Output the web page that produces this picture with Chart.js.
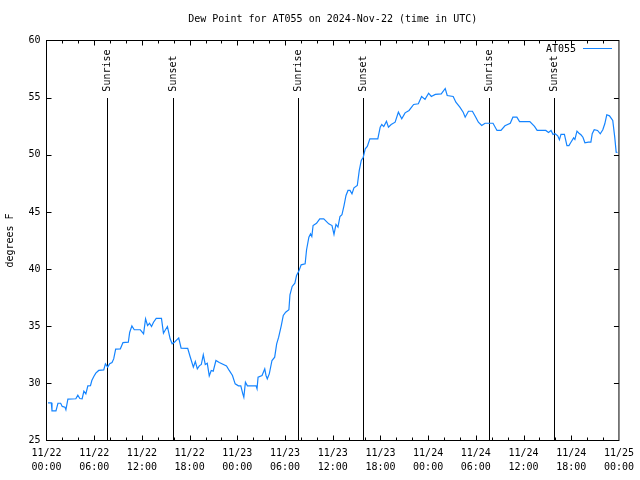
<!DOCTYPE html>
<html>
<head>
<meta charset="utf-8">
<script src="https://cdn.jsdelivr.net/npm/chart.js@4.4.1/dist/chart.umd.min.js"></script>
<style>
  body { margin: 0; background: #fff; }
  #chart { display: block; }
</style>
</head>
<body>
<canvas id="chart" width="640" height="480"></canvas>
<script>
// hours since 11/22 00:00 UTC
const hours = [0.19,0.60,0.69,1.19,1.44,1.78,1.98,2.32,2.44,2.69,3.69,3.94,4.19,4.48,4.70,4.95,5.20,5.53,5.70,5.95,
  6.20,6.57,7.20,7.41,7.70,7.95,8.24,8.45,8.70,9.29,9.62,10.29,10.46,10.74,11.04,11.80,12.21,12.46,12.71,12.96,
  13.21,13.46,13.80,14.46,14.71,14.96,15.21,15.55,15.80,16.09,16.38,16.63,16.93,17.76,18.06,18.47,18.72,18.97,19.22,19.47,
  19.72,19.97,20.22,20.47,20.72,20.97,21.31,21.73,22.64,22.98,23.39,23.73,24.14,24.44,24.69,24.82,25.02,25.27,26.36,26.48,
  26.61,27.11,27.45,27.61,27.77,28.02,28.36,28.70,28.95,29.20,29.53,29.78,30.08,30.49,30.62,30.90,31.24,31.45,31.74,32.03,
  32.53,32.71,33.00,33.21,33.37,33.53,33.96,34.37,34.87,35.50,35.91,36.16,36.41,36.66,36.91,37.16,37.42,37.67,37.92,38.17,
  38.42,38.67,39.09,39.34,39.59,39.84,40.09,40.35,40.67,41.67,41.97,42.17,42.42,42.76,43.01,43.35,43.85,44.26,44.68,45.10,
  45.60,46.18,46.77,47.18,47.61,48.06,48.40,48.90,49.65,50.15,50.40,51.15,51.49,51.99,52.41,52.66,53.07,53.57,53.99,54.32,
  54.74,55.16,56.16,56.66,57.16,57.66,58.33,58.66,59.16,59.50,60.79,61.38,61.71,62.80,63.14,63.46,63.71,63.96,64.30,64.51,
  64.71,65.14,65.46,65.71,65.96,66.30,66.46,66.72,66.97,67.22,67.47,67.72,68.14,68.47,68.64,68.89,69.31,69.65,69.97,70.22,
  70.47,70.81,71.22,71.47,71.65,71.81];
const dewPoint = [28.30,28.30,27.60,27.60,28.26,28.26,27.98,27.92,27.69,28.62,28.65,28.97,28.67,28.65,29.31,29.08,29.78,29.80,30.25,30.60,
  30.89,31.13,31.18,31.71,31.42,31.71,31.82,32.14,33.00,33.02,33.57,33.60,34.45,35.03,34.69,34.69,34.33,35.64,35.06,35.26,
  34.97,35.35,35.68,35.68,34.39,34.69,34.97,33.90,33.46,33.60,33.81,33.98,33.08,33.06,32.35,31.42,31.91,31.27,31.53,31.65,
  32.50,31.65,31.76,30.66,31.13,31.07,32.00,31.82,31.53,31.13,30.69,29.96,29.78,29.78,29.08,28.79,30.10,29.78,29.78,29.52,
  30.54,30.69,31.27,30.69,30.40,30.83,32.00,32.29,33.46,34.04,35.06,35.94,36.23,36.44,37.75,38.48,38.77,39.44,39.82,40.37,
  40.46,41.69,42.79,43.08,42.85,43.81,44.01,44.40,44.40,43.96,43.81,43.03,43.90,43.67,44.60,44.75,45.56,46.44,46.88,46.88,
  46.58,47.11,47.31,48.63,49.50,49.79,50.52,50.73,51.40,51.40,52.42,52.65,52.47,52.94,52.42,52.65,52.85,53.73,53.15,53.67,
  53.88,54.40,54.46,55.10,54.85,55.39,55.10,55.28,55.33,55.80,55.19,55.10,54.60,54.17,53.73,53.29,53.81,53.81,53.29,52.85,
  52.56,52.76,52.76,52.13,52.13,52.54,52.76,53.29,53.29,52.91,52.91,52.48,52.13,52.13,51.95,52.13,51.78,51.84,51.66,51.31,
  51.78,51.78,50.81,50.81,51.10,51.48,51.34,52.07,51.89,51.75,51.54,51.05,51.10,51.10,51.84,52.19,52.13,51.84,52.19,52.71,
  53.50,53.41,53.00,51.54,50.23,50.20];

const sunriseHours = [7.62, 31.66, 55.62];
const sunsetHours = [15.86, 39.80, 63.84];
const tickLabels = [
  ['11/22', '00:00'], ['11/22', '06:00'], ['11/22', '12:00'], ['11/22', '18:00'],
  ['11/23', '00:00'], ['11/23', '06:00'], ['11/23', '12:00'], ['11/23', '18:00'],
  ['11/24', '00:00'], ['11/24', '06:00'], ['11/24', '12:00'], ['11/24', '18:00'],
  ['11/25', '00:00']
];
const seriesName = 'AT055';
const chartTitle = 'Dew Point for AT055 on 2024-Nov-22 (time in UTC)';

const FONT = '"DejaVu Sans Mono", monospace';
const LINE_COLOR = '#1484ff';

const frame = {
  id: 'frame',
  beforeDatasetsDraw(chart) {
    // sunrise / sunset markers, from 55 F down to the bottom
    const c = chart.ctx, xs = chart.scales.x, ys = chart.scales.y;
    c.save();
    c.strokeStyle = '#000';
    c.lineWidth = 1;
    c.beginPath();
    sunriseHours.concat(sunsetHours).forEach(function(h) {
      let px = Math.round(xs.getPixelForValue(h)) + 0.5;
      c.moveTo(px, Math.round(ys.getPixelForValue(55)));
      c.lineTo(px, ys.getPixelForValue(25));
    });
    c.stroke();
    c.restore();
  },
  afterDatasetsDraw(chart) {
    const c = chart.ctx, a = chart.chartArea;
    const xs = chart.scales.x, ys = chart.scales.y;
    c.save();
    c.strokeStyle = '#000';
    c.lineWidth = 1;
    c.strokeRect(a.left, a.top, a.right - a.left, a.bottom - a.top);

    c.beginPath();
    for (let v = 30; v < 60; v += 5) {
      let py = Math.round(ys.getPixelForValue(v)) + 0.5;
      c.moveTo(a.left, py); c.lineTo(a.left + 5, py);
      c.moveTo(a.right, py); c.lineTo(a.right - 5, py);
    }
    for (let h = 2; h < 72; h += 2) {
      let px = Math.round(xs.getPixelForValue(h)) + 0.5;
      let len = h % 6 == 0 ? 5 : 3;
      c.moveTo(px, a.bottom); c.lineTo(px, a.bottom - len);
      c.moveTo(px, a.top); c.lineTo(px, a.top + len);
    }
    c.stroke();

    c.fillStyle = '#000';
    c.font = '10px ' + FONT;
    c.textAlign = 'center';
    c.textBaseline = 'middle';
    c.fillText(chartTitle, (a.left + a.right) / 2, 19);

    const lbl = function(h, text) {
      c.save();
      c.translate(Math.round(xs.getPixelForValue(h)) + 0.5, ys.getPixelForValue(55) - 6);
      c.rotate(-Math.PI / 2);
      c.textAlign = 'left';
      c.fillText(text, 0, 0);
      c.restore();
    };
    sunriseHours.forEach(function(h) { lbl(h, 'Sunrise'); });
    sunsetHours.forEach(function(h) { lbl(h, 'Sunset'); });

    // legend
    c.textAlign = 'right';
    c.fillText(seriesName, 576, 49);
    c.strokeStyle = LINE_COLOR;
    c.beginPath();
    c.moveTo(583, 48.5); c.lineTo(612, 48.5);
    c.stroke();
    c.restore();
  }
};

new Chart(document.getElementById('chart'), {
  type: 'line',
  data: {
    datasets: [{
      label: seriesName,
      data: hours.map(function(h, i) { return {x: h, y: dewPoint[i]}; }),
      borderColor: LINE_COLOR,
      borderWidth: 1.2,
      pointRadius: 0,
      tension: 0
    }]
  },
  plugins: [frame],
  options: {
    responsive: false,
    animation: false,
    layout: { padding: { top: 40.5, right: 17.5, left: 0, bottom: 0 } },
    plugins: { legend: { display: false }, tooltip: { enabled: false } },
    scales: {
      x: {
        type: 'linear', min: 0, max: 72,
        afterFit: function(s) { s.height = 39.5; },
        grid: { display: false, drawTicks: false },
        border: { display: false },
        ticks: {
          stepSize: 6, autoSkip: false, maxRotation: 0, padding: 6,
          color: '#000', font: { family: FONT, size: 10, lineHeight: 1.4 },
          callback: function(v) { return tickLabels[v / 6]; }
        }
      },
      y: {
        min: 25, max: 60,
        afterFit: function(s) { s.width = 46.5; },
        grid: { display: false, drawTicks: false },
        border: { display: false },
        title: { display: true, text: 'degrees F', color: '#000', font: { family: FONT, size: 10 }, padding: { top: 4, bottom: 0 } },
        ticks: { stepSize: 5, padding: 6, color: '#000', font: { family: FONT, size: 10 } }
      }
    }
  }
});
</script>
</body>
</html>
